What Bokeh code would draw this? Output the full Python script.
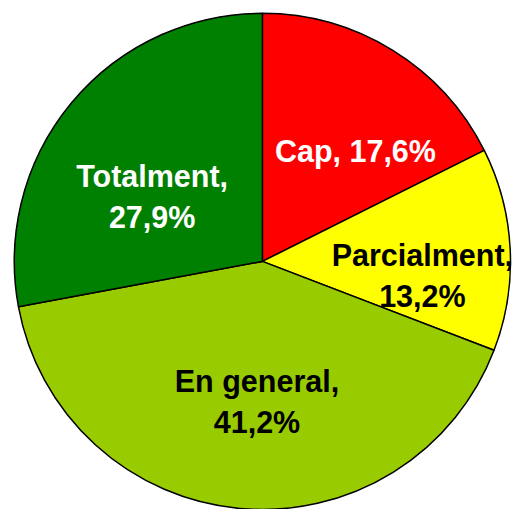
import numpy as np
from bokeh.plotting import figure
from bokeh.models import Range1d, ColumnDataSource
from bokeh.core.properties import value
from bokeh.embed import file_html
from bokeh.resources import INLINE

# ---- data ----
categories = ["Cap", "Parcialment", "En general", "Totalment"]
percentages = [17.6, 13.2, 41.2, 27.9]
label_lines = [["Cap, 17,6%"], ["Parcialment,", "13,2%"], ["En general,", "41,2%"], ["Totalment,", "27,9%"]]

# ---- styles / layout ----
colors = ["#FF0000", "#FFFF00", "#99CC00", "#008000"]
text_colors = ["white", "black", "black", "white"]
W, H = 515, 509
s = H / 517.0  # scale from the 523x517 reference layout to the 515x509 figure
cx, cy, R = 266 * s, -265 * s, 252 * s
# first-line anchor (reference px) per category; further lines go 42px lower
label_anchor = [(360.5, 153), (428.5, 258), (260.5, 386), (154, 178)]
line_gap = 42

vals = np.array(percentages, dtype=float)
frac = vals / vals.sum()
cum = np.concatenate([[0], np.cumsum(frac)])
start = np.pi / 2 - 2 * np.pi * cum[:-1]
end = np.pi / 2 - 2 * np.pi * cum[1:]

src = ColumnDataSource(dict(start=start, end=end, color=colors, cat=categories))

p = figure(width=W, height=H, output_backend="svg", toolbar_location=None,
           x_range=Range1d(0, W), y_range=Range1d(-H, 0), min_border=0)
p.axis.visible = False
p.grid.visible = False
p.outline_line_color = None
p.background_fill_color = "white"
p.border_fill_color = "white"

p.wedge(x=cx, y=cy, radius=R, start_angle="start", end_angle="end", direction="clock",
        fill_color="color", line_color="black", line_width=1.5, source=src)

tx, ty, tt, tc = [], [], [], []
for lines, (ax, ay), col in zip(label_lines, label_anchor, text_colors):
    for i, line in enumerate(lines):
        tx.append(ax * s)
        ty.append(-(ay + i * line_gap) * s)
        tt.append(line)
        tc.append(col)

p.text(x=tx, y=ty, text=tt, text_color=tc, text_align="center", text_baseline="alphabetic",
       text_font=value("Liberation Sans"), text_font_style="bold",
       text_font_size=f"{31 * s:.1f}px")

open("out.html", "w").write(file_html(p, INLINE))
